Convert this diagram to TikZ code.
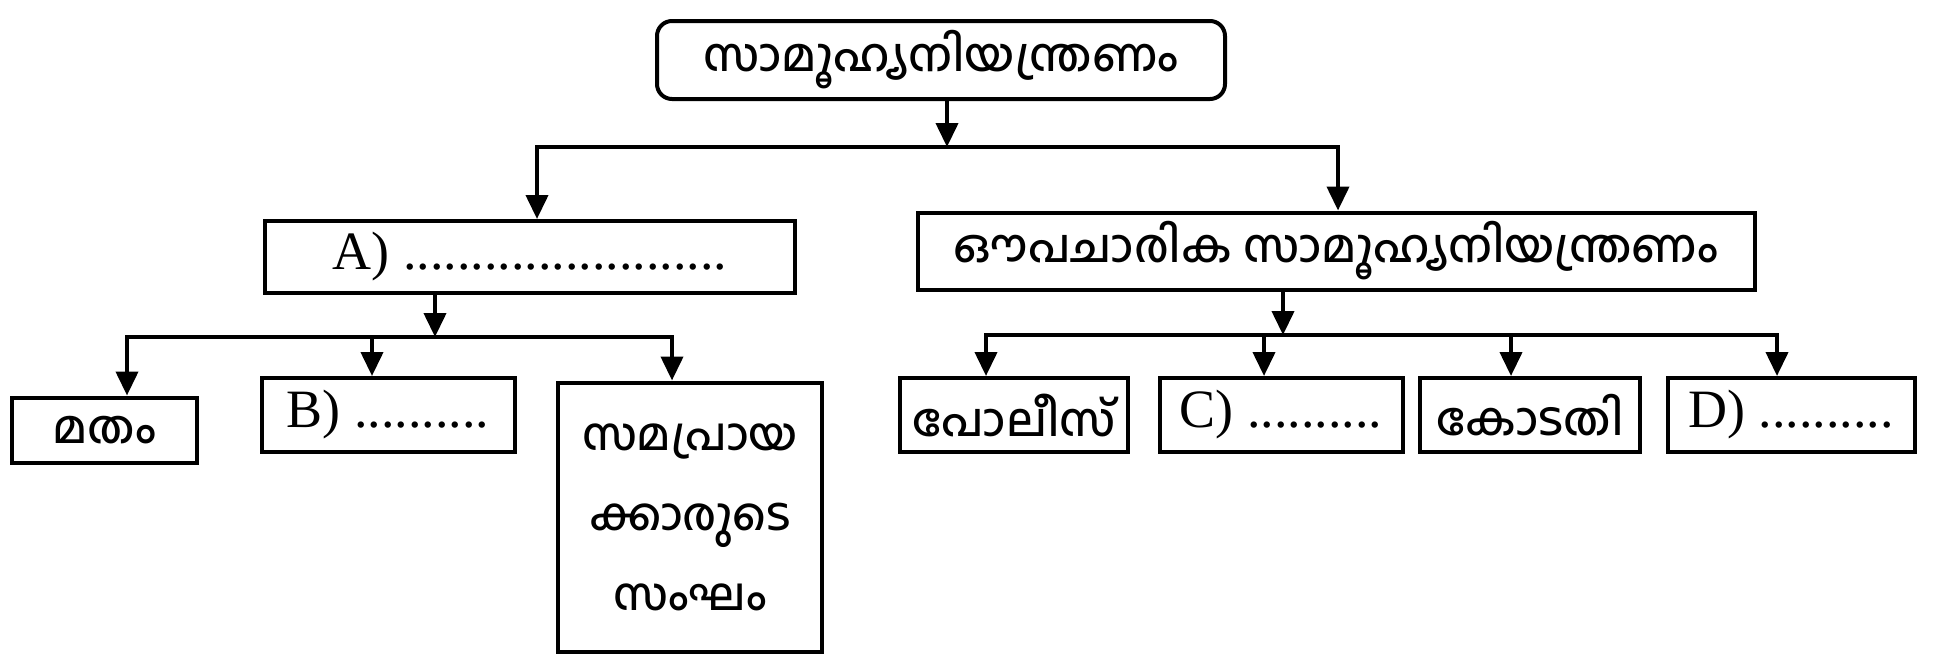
\documentclass[tikz,border=0pt]{standalone}
\usepackage{fontspec}
\setmainfont{Liberation Serif}
\newfontfamily\mlfont[Script=Malayalam]{Hind Kochi Medium}
\usetikzlibrary{arrows.meta}
\begin{document}
\begin{tikzpicture}[x=1pt,y=-1pt,
  box/.style={draw, line width=4pt, inner sep=0pt, align=center},
  arr/.style={line width=4pt, -{Triangle[length=24pt,width=22pt]}},
  ln/.style={line width=4pt, line cap=rect},
  ml/.style={font=\mlfont\fontsize{46}{56}\selectfont},
  mlbig/.style={font=\mlfont\fontsize{45}{80}\selectfont},
  lat/.style={font=\fontsize{54}{60}\selectfont}]
\useasboundingbox (0,0) rectangle (1936,657);
% boxes
\node[box, rounded corners=15pt, minimum width=568pt, minimum height=78pt, ml] (top) at (941,60) {സാമൂഹ്യനിയന്ത്രണം};
\node[box, minimum width=530pt, minimum height=72pt, lat] (A) at (530,257) {A) ........................};
\node[box, minimum width=837pt, minimum height=77pt, ml] (F) at (1336,251) {ഔപചാരിക സാമൂഹ്യനിയന്ത്രണം};
\node[box, minimum width=185pt, minimum height=65pt, ml] (m) at (104,430) {മതം};
\node[box, minimum width=253pt, minimum height=74pt, lat] (B) at (388,415) {B) ..........};
\node[box, minimum width=264pt, minimum height=269pt, mlbig] (S) at (690,517) {സമപ്രായ\\ക്കാരുടെ\\സംഘം};
\node[box, minimum width=228pt, minimum height=74pt, ml] (P) at (1014,415) {പോലീസ്};
\node[box, minimum width=243pt, minimum height=74pt, lat] (C) at (1281,415) {C) ..........};
\node[box, minimum width=220pt, minimum height=74pt, ml] (K) at (1530,415) {കോടതി};
\node[box, minimum width=247pt, minimum height=74pt, lat] (D) at (1791,415) {D) ..........};
% junction coordinates
\coordinate (j0) at (947,147);
\coordinate (jA) at (537,147);
\coordinate (jF) at (1338,147);
\coordinate (k0) at (435,337);
\coordinate (k1) at (127,337);
\coordinate (k2) at (372,337);
\coordinate (k3) at (672,337);
\coordinate (r0) at (1283,335);
\coordinate (r1) at (986,335);
\coordinate (r2) at (1264,335);
\coordinate (r3) at (1511,335);
\coordinate (r4) at (1777,335);
% connectors
\draw[arr] (top.south -| j0) -- (j0);
\draw[ln] (jA) -- (jF);
\draw[arr] (jA) -- (jA |- A.north);
\draw[arr] (jF) -- (jF |- F.north);
\draw[arr] (A.south -| k0) -- (k0);
\draw[ln] (k1) -- (k3);
\draw[arr] (k1) -- (k1 |- m.north);
\draw[arr] (k2) -- (k2 |- B.north);
\draw[arr] (k3) -- (k3 |- S.north);
\draw[arr] (F.south -| r0) -- (r0);
\draw[ln] (r1) -- (r4);
\draw[arr] (r1) -- (r1 |- P.north);
\draw[arr] (r2) -- (r2 |- C.north);
\draw[arr] (r3) -- (r3 |- K.north);
\draw[arr] (r4) -- (r4 |- D.north);
\end{tikzpicture}
\end{document}
